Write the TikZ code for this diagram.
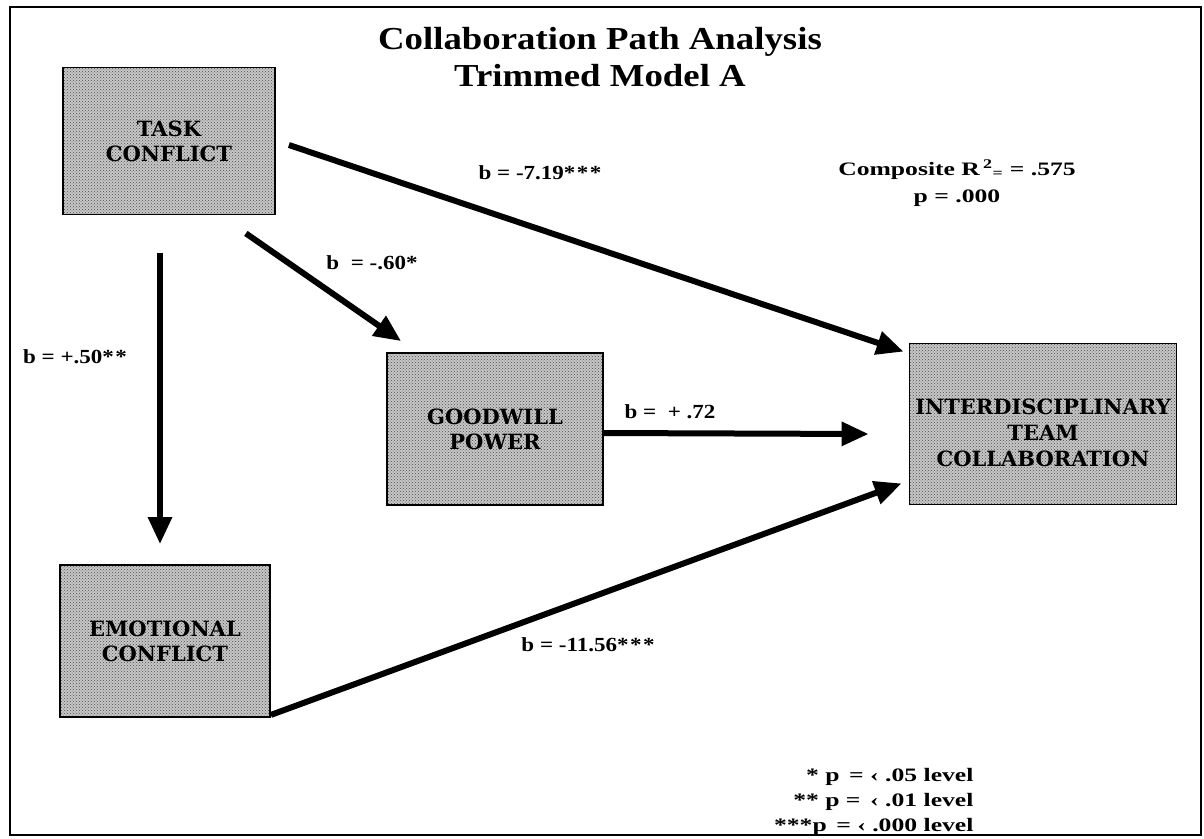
\documentclass[tikz,border=0pt]{standalone}
\usepackage{fontspec}
\setmainfont{Liberation Serif}
\newfontfamily\widefont{Liberation Serif}[FakeStretch=1.35]
\newfontfamily\coeffont{Liberation Serif}[FakeStretch=1.15]
\newfontfamily\titlefont{Liberation Serif}[FakeStretch=1.15]
\newfontfamily\boxfont{DejaVu Serif}
\newcommand{\stars}[1]{\foreach \i in {1,...,#1}{*\hspace{1.5pt}}}
\usetikzlibrary{arrows.meta,patterns}
\begin{document}
\begin{tikzpicture}[x=1pt,y=-1pt,
  varbox/.style={draw=black, line width=1.8pt, preaction={fill=black!22},
    pattern=crosshatch dots, pattern color=black!70, inner sep=0pt,
    align=center, font=\boxfont\bfseries\fontsize{21}{25}\selectfont},
  boxtext/.style={align=center, font=\boxfont\bfseries\fontsize{21}{26}\selectfont},
  path/.style={line width=6pt, -{Triangle[length=27pt,width=23pt]}},
  coef/.style={font=\coeffont\bfseries\fontsize{20}{22}\selectfont},
  legend/.style={font=\widefont\bfseries\fontsize{19}{21}\selectfont, anchor=east}]
\useasboundingbox (0,0) rectangle (1204,838);
\draw[line width=2.5pt] (10,7) rectangle (1201,835);

% title
\node[font=\titlefont\bfseries\fontsize{32}{37}\selectfont, align=center] (title) at (600,57)
  {Collaboration Path Analysis\\Trimmed Model A};

% variables
\node[varbox, minimum width=212pt, minimum height=147pt] (task) at (169,141) {TASK\\CONFLICT};
\node[varbox, minimum width=216pt, minimum height=152pt] (good) at (495,429) {GOODWILL\\POWER};
\node[varbox, minimum width=210pt, minimum height=152pt] (emot) at (165,641) {EMOTIONAL\\CONFLICT};
\node[varbox, minimum width=267pt, minimum height=161pt] (team) at (1043,424) {};
\node[boxtext] (teamtext) at ([yshift=-9pt]team.center) {INTERDISCIPLINARY\\TEAM\\COLLABORATION};

% paths
\draw[path] ([shift={(13,4)}]task.east) -- ([shift={(-5,9)}]team.north west);
\draw[path] ([shift={(-30,18)}]task.south east) -- ([shift={(15,-11)}]good.north west);
\draw[path] ([shift={(-9,38)}]task.south) -- ([shift={(-5,-20)}]emot.north);
\draw[path] ([shift={(0,4)}]good.east) -- ([shift={(-40,10)}]team.west);
\draw[path] ([shift={(0,-3)}]emot.south east) -- ([shift={(-7,-22)}]team.south west);

% path coefficients
\node[coef] (c1) at (540,173) {b = -7.19\stars{3}};
\node[coef] (c2) at (372,263) {b \ = -.60\stars{1}};
\node[coef] (c3) at (75,357) {b = +.50\stars{2}};
\node[coef] (c4) at (670,412) {b = \ + .72};
\node[coef] (c5) at (588,645) {b = -11.56\stars{3}};

% fit
\node[font=\widefont\bfseries\fontsize{19}{27}\selectfont, align=center] (fit) at (957,183)
  {Composite R\,\textsuperscript{2}\textsubscript{=} = .575\\p = .000};

% significance legend
\node[legend] (l1) at (977,777) {* p \,= ‹ .05 level};
\node[legend] (l2) at (977,802) {** p = \,‹ .01 level};
\node[legend] (l3) at (977,827) {***p \,= ‹ .000 level};
\end{tikzpicture}
\end{document}
